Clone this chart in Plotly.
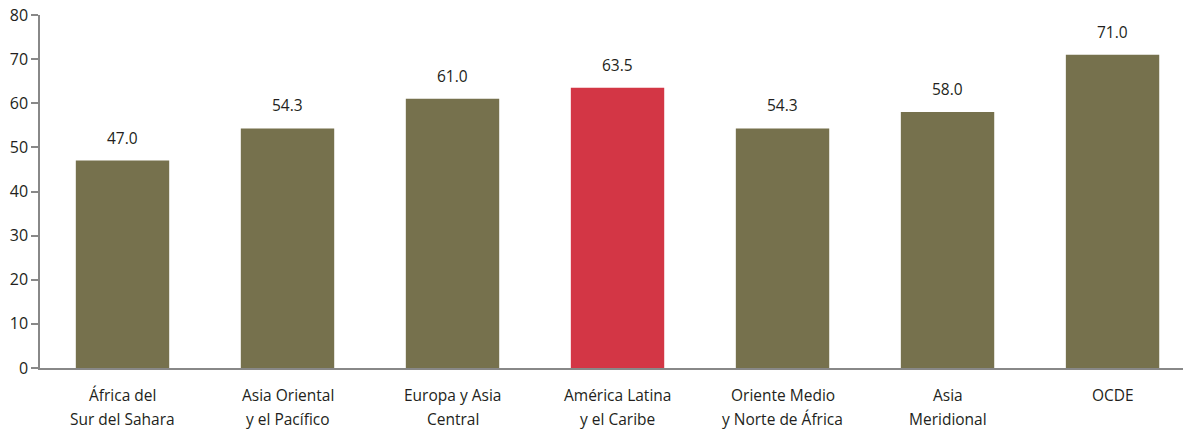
import plotly.graph_objects as go

categories = ["África del<br>Sur del Sahara", "Asia Oriental<br>y el Pacífico", "Europa y Asia<br>Central",
              "América Latina<br>y el Caribe", "Oriente Medio<br>y Norte de África", "Asia<br>Meridional", "OCDE"]
values = [47.0, 54.3, 61.0, 63.5, 54.3, 58.0, 71.0]
highlight = "América Latina<br>y el Caribe"
yticks = [0, 10, 20, 30, 40, 50, 60, 70, 80]

OLIVE = "#76714d"
RED = "#d33645"
colors = [RED if c == highlight else OLIVE for c in categories]
FONT = "Open Sans"
TXT = "#231f20"

fig = go.Figure()
fig.add_trace(go.Bar(x=list(range(len(categories))), y=values, marker_color=colors,
                     marker_line_width=0, width=0.566))

for i, v in enumerate(values):
    fig.add_annotation(x=i, y=v, text=f"{v:.1f}", showarrow=False, yshift=23,
                       font=dict(family=FONT, size=15.5, color=TXT))

for i, c in enumerate(categories):
    for j, line in enumerate(c.split("<br>")):
        fig.add_annotation(x=i, y=0, text=line, showarrow=False, yanchor="middle",
                           yshift=-27 - 24 * j, font=dict(family=FONT, size=15.5, color=TXT))

fig.update_layout(
    width=1183, height=430,
    margin=dict(l=40, r=0, t=15, b=62),
    paper_bgcolor="white", plot_bgcolor="white",
    showlegend=False,
    font=dict(family=FONT, color=TXT),
)
fig.update_xaxes(range=[-0.5, 6.427], showticklabels=False, showline=True, linecolor="#888",
                 linewidth=1.5, ticks="", showgrid=False, zeroline=False, automargin=False)
fig.update_yaxes(range=[0, 80], tickvals=yticks, showline=True,
                 linecolor="#888", linewidth=1.5, ticks="outside", ticklen=7, tickcolor="#888",
                 tickwidth=1.5, showgrid=False, zeroline=False, automargin=False,
                 tickfont=dict(size=16, family=FONT, color=TXT))

fig.write_html("out.html", config={"displayModeBar": False},
               post_script="document.body.style.margin='0';document.body.style.overflow='hidden';")
